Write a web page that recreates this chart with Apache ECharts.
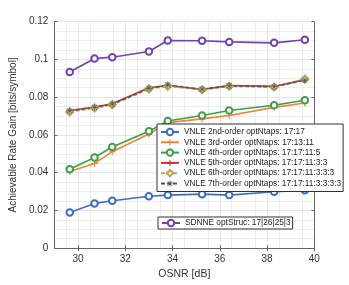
<!DOCTYPE html>
<html><head><meta charset="utf-8">
<script src="https://cdn.jsdelivr.net/npm/echarts@6/dist/echarts.min.js"></script>
<style>html,body{margin:0;padding:0;background:#fff}#c{width:349px;height:285px}</style>
</head><body><div id="c"></div>
<script>
const osnr = [29.65, 30.7, 31.45, 33.0, 33.8, 35.25, 36.4, 38.3, 39.6];
const vnle2 = [0.0189, 0.0237, 0.0251, 0.0275, 0.0281, 0.0286, 0.0281, 0.0299, 0.0306];
const vnle3 = [0.0406, 0.0449, 0.0511, 0.0605, 0.0665, 0.0685, 0.0703, 0.0746, 0.0769];
const vnle4 = [0.0418, 0.0480, 0.0536, 0.0619, 0.0674, 0.0703, 0.0729, 0.0757, 0.0784];
const vnle5 = [0.0729, 0.0748, 0.0765, 0.0850, 0.0862, 0.0841, 0.0862, 0.0857, 0.0893];
const vnle6 = [0.0722, 0.0742, 0.0760, 0.0843, 0.0858, 0.0839, 0.0858, 0.0853, 0.0896];
const vnle7 = [0.0727, 0.0746, 0.0763, 0.0847, 0.0864, 0.0842, 0.0860, 0.0856, 0.0890];
const sdnne = [0.0933, 0.1005, 0.1012, 0.1042, 0.1100, 0.1099, 0.1093, 0.1088, 0.1104];
const names = ['VNLE 2nd-order optNtaps: 17:17','VNLE 3rd-order optNtaps: 17:13:11','VNLE 4th-order optNtaps: 17:17:11:5','VNLE 5th-order optNtaps: 17:17:11:3:3','VNLE 6th-order optNtaps: 17:17:11:3:3:3','VNLE 7th-order optNtaps: 17:17:11:3:3:3:3','SDNNE optStruc: 17|26|25|3'];
const xTicks = [30, 32, 34, 36, 38, 40];

const plus = 'path://M4.2,0 H5.8 V4.2 H10 V5.8 H5.8 V10 H4.2 V5.8 H0 V4.2 H4.2 Z';
const aster = 'path://M4.5,0 H5.5 V10 H4.5 Z M0,4.5 H10 V5.5 H0 Z M1,1.7 L1.7,1 L9,8.3 L8.3,9 Z M8.3,1 L9,1.7 L1.7,9 L1,8.3 Z';
const pair = a => osnr.map((x, i) => [x, a[i]]);
function ser(name, data, color, symbol, size, dash, empty) {
  return {
    name, type: 'line', data: pair(data), symbol, symbolSize: size,
    lineStyle: { color, width: 1.6, type: dash ? [4, 2] : 'solid' },
    itemStyle: empty ? { color, borderColor: color, borderWidth: 1.5 } : { color, borderWidth: 0 },
    emphasis: { disabled: true }, animation: false, z: 2
  };
}
const axCol = '#666';
const chart = echarts.init(document.getElementById('c'), null, { renderer: 'canvas' });
chart.setOption({
  backgroundColor: '#fff',
  animation: false,
  grid: { left: 32.5, top: 21.7, right: 34.7, bottom: 31.5, containLabel: false },
  xAxis: [{
    type: 'value', min: 29, max: 40, interval: 1, position: 'bottom',
    name: 'OSNR [dB]', nameLocation: 'middle', nameGap: 18,
    nameTextStyle: { fontSize: 10.5, color: '#333', fontFamily: 'Liberation Sans' },
    axisLine: { show: true, lineStyle: { color: axCol, width: 1 } },
    axisTick: { show: true, inside: true, length: 3, customValues: xTicks, lineStyle: { color: axCol } },
    axisLabel: { customValues: xTicks, fontSize: 10, color: '#333', margin: 6, fontFamily: 'Liberation Sans' },
    splitLine: { show: true, lineStyle: { color: '#e6e6e6', width: 1 } },
    minorTick: { show: false, splitNumber: 2 },
    minorSplitLine: { show: true, lineStyle: { color: '#ededed', width: 1 } }
  }, {
    type: 'value', min: 29, max: 40, interval: 1, position: 'top',
    axisLine: { show: true, lineStyle: { color: axCol, width: 1 } },
    axisTick: { show: true, inside: true, length: 3, customValues: xTicks, lineStyle: { color: axCol } },
    axisLabel: { show: false }, splitLine: { show: false }
  }],
  yAxis: [{
    type: 'value', min: 0, max: 0.12, interval: 0.02, position: 'left',
    name: 'Achievable Rate Gain [bits/symbol]', nameLocation: 'middle', nameGap: 30,
    nameTextStyle: { fontSize: 10, color: '#333', fontFamily: 'Liberation Sans' },
    axisLine: { show: true, lineStyle: { color: axCol, width: 1 } },
    axisTick: { show: true, inside: true, length: 3, lineStyle: { color: axCol } },
    axisLabel: { fontSize: 10, color: '#333', margin: 6, fontFamily: 'Liberation Sans',
      formatter: v => v === 0 ? '0' : String(+v.toFixed(2)) },
    splitLine: { show: true, lineStyle: { color: '#e6e6e6', width: 1 } },
    minorTick: { show: false, splitNumber: 4 },
    minorSplitLine: { show: true, lineStyle: { color: '#ededed', width: 1 } }
  }, {
    type: 'value', min: 0, max: 0.12, interval: 0.02, position: 'right',
    axisLine: { show: true, lineStyle: { color: axCol, width: 1 } },
    axisTick: { show: true, inside: true, length: 3, lineStyle: { color: axCol } },
    axisLabel: { show: false }, splitLine: { show: false }
  }],
  legend: [{
    data: names.slice(0, 6), orient: 'vertical', left: 157, top: 124,
    padding: [3, 2, 3, 3], itemWidth: 18, itemHeight: 8, itemGap: 0.3,
    backgroundColor: '#fff', borderColor: '#333', borderWidth: 1, borderRadius: 0,
    textStyle: { fontSize: 8.3, lineHeight: 10, color: '#222', fontFamily: 'Liberation Sans' },
    selectedMode: false, z: 10
  }, {
    data: [names[6]], orient: 'vertical', left: 158, top: 217,
    padding: [1, 2, 1, 3], itemWidth: 18, itemHeight: 8,
    backgroundColor: '#fff', borderColor: '#333', borderWidth: 1, borderRadius: 0,
    textStyle: { fontSize: 8.3, lineHeight: 10, color: '#222', fontFamily: 'Liberation Sans' },
    selectedMode: false, z: 10
  }],
  series: [
    ser(names[0], vnle2, '#3B6EC0', 'emptyCircle', 6.5, false, true),
    ser(names[1], vnle3, '#EE8533', plus, 7, false, false),
    ser(names[2], vnle4, '#3D9F47', 'emptyCircle', 6.5, false, true),
    ser(names[3], vnle5, '#DC2A2A', plus, 7, false, false),
    ser(names[4], vnle6, '#B9A45A', 'emptyDiamond', 7, true, true),
    ser(names[5], vnle7, '#555555', aster, 7, true, false),
    ser(names[6], sdnne, '#6F43B0', 'emptyCircle', 6.5, false, true)
  ]
});
</script></body></html>
